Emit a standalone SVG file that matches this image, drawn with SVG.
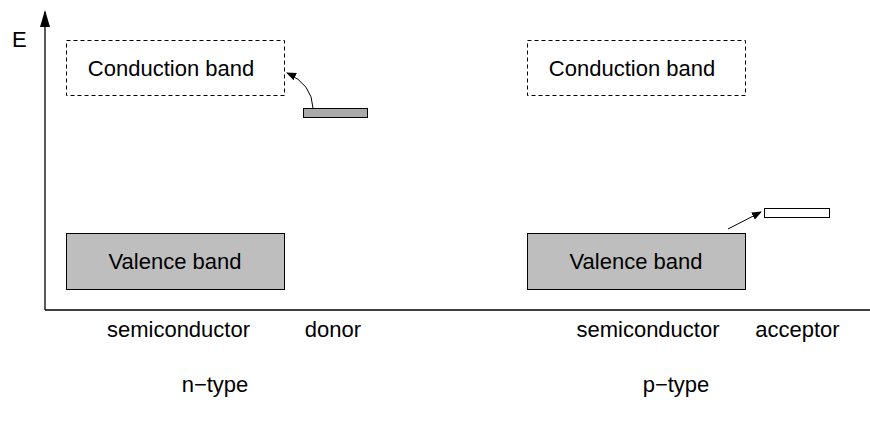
<svg xmlns="http://www.w3.org/2000/svg" width="870" height="424" viewBox="0 0 870 424">
<style>
text{font-family:"Liberation Sans",Arial,sans-serif;font-size:22px;fill:#000;text-anchor:middle}
.cb{fill:none;stroke:#000;stroke-width:1;stroke-dasharray:4,3}
.vb{fill:#bebebe;stroke:#000;stroke-width:1}
.ax{fill:none;stroke:#000;stroke-width:1.3}
.ar{fill:none;stroke:#000;stroke-width:1}
</style>
<defs>
<marker id="ah" markerWidth="10" markerHeight="8" refX="9" refY="4" orient="auto" markerUnits="userSpaceOnUse">
<path d="M0,0 L10,4 L0,8 Z" fill="#000"/>
</marker>
</defs>
<g id="axes">
<path class="ax" d="M45,310 L45,12"/>
<path d="M45,10 L40,27 L50,27 Z" fill="#000"/>
<path class="ax" d="M45,310 L870,310"/>
<text x="12" y="47" style="text-anchor:start">E</text>
</g>
<g id="n-conduction"><rect class="cb" x="66.5" y="40.5" width="218" height="55"/><text x="171" y="76">Conduction band</text></g>
<g id="n-valence"><rect class="vb" x="66.5" y="233.5" width="218" height="56"/><text x="175" y="269">Valence band</text></g>
<g id="donor"><rect x="303.5" y="108.5" width="64" height="9" style="fill:#aaaaaa;stroke:#000"/></g>
<g id="p-conduction"><rect class="cb" x="527.5" y="40.5" width="218" height="55"/><text x="632" y="76">Conduction band</text></g>
<g id="p-valence"><rect class="vb" x="527.5" y="233.5" width="218" height="56"/><text x="636" y="269">Valence band</text></g>
<g id="acceptor"><rect x="764.5" y="208.5" width="65" height="9" fill="#fff" stroke="#000"/></g>
<g id="connectors">
<path class="ar" d="M313,108 Q312,84 287,73" marker-end="url(#ah)"/>
<path class="ar" d="M728,229 L761,212" marker-end="url(#ah)"/>
</g>
<g id="labels">
<text x="178.5" y="337">semiconductor</text>
<text x="333" y="337">donor</text>
<text x="648" y="337">semiconductor</text>
<text x="797.5" y="337">acceptor</text>
<text x="215" y="392">n−type</text>
<text x="676" y="392">p−type</text>
</g>
</svg>
